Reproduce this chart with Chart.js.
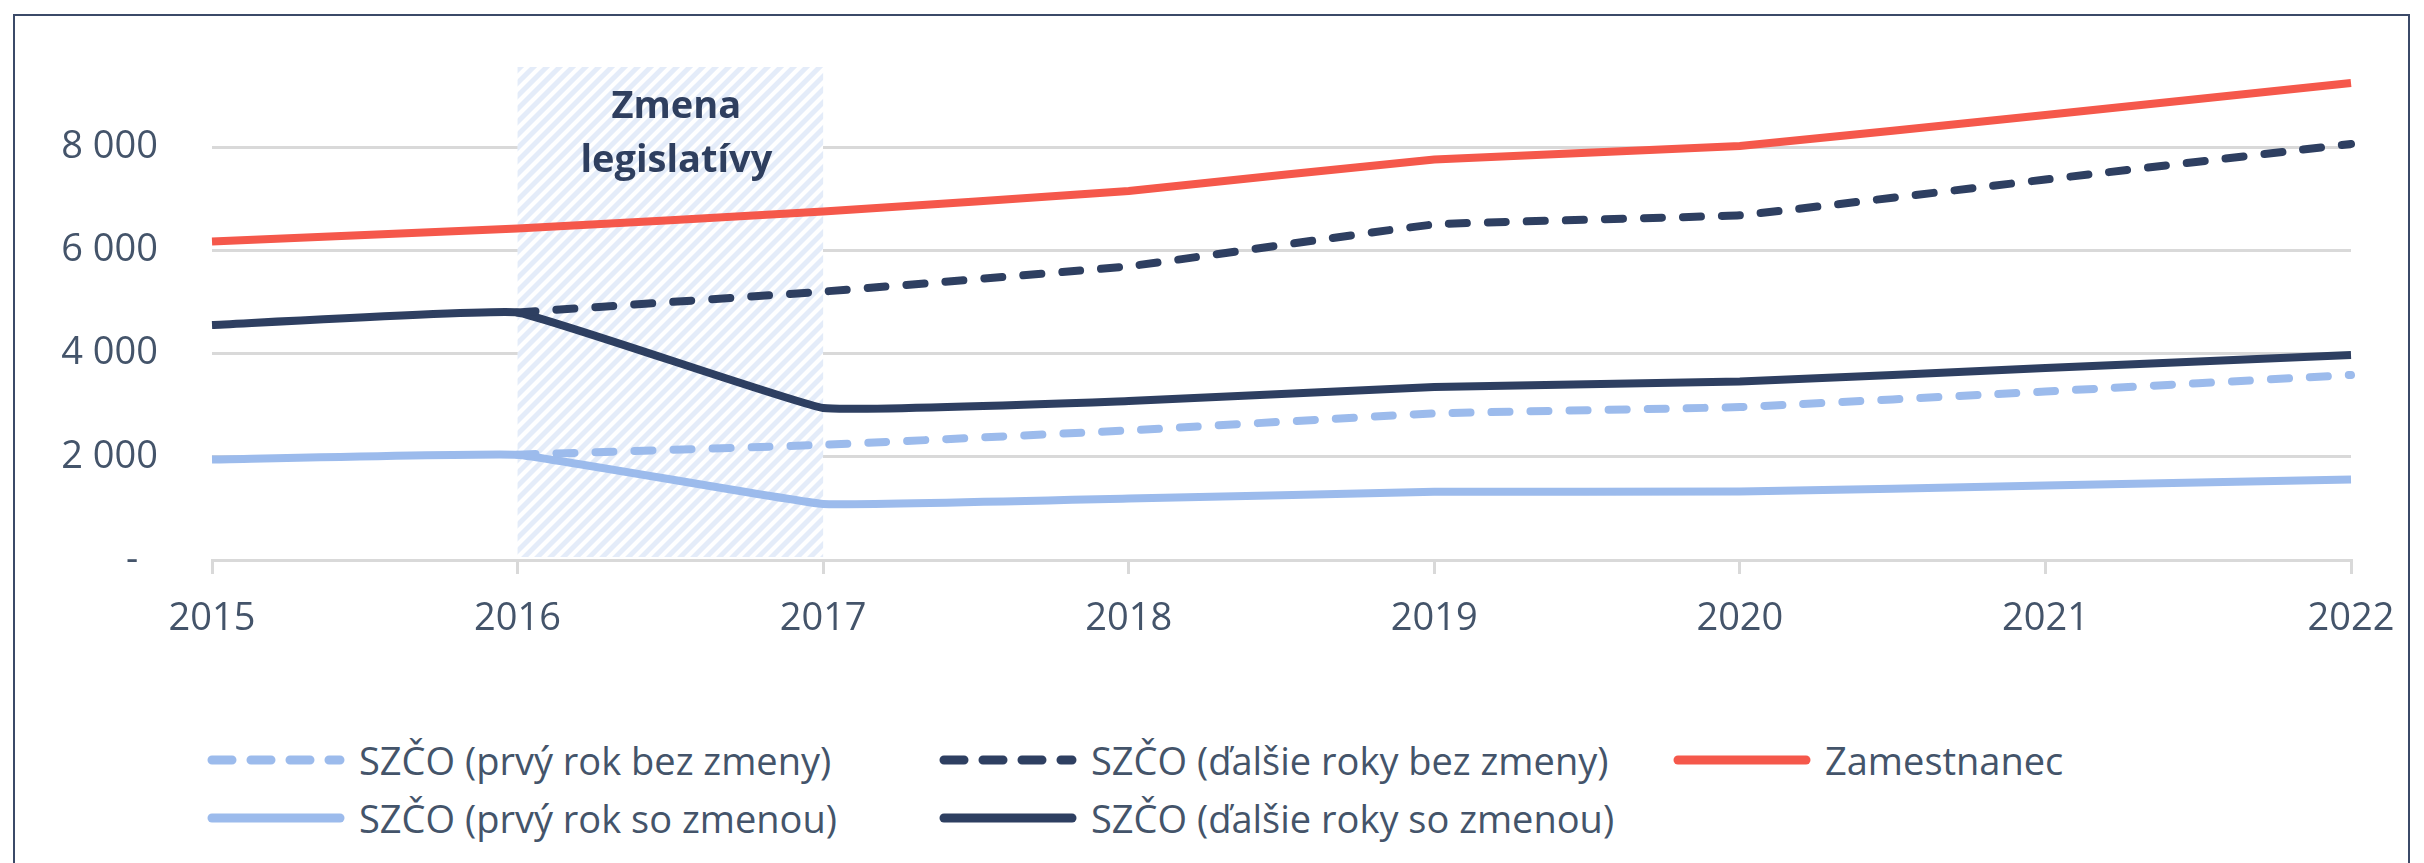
<!DOCTYPE html>
<html>
<head>
<meta charset="utf-8">
<script src="https://cdn.jsdelivr.net/npm/chart.js@4.4.1/dist/chart.umd.min.js"></script>
<style>
  html, body { margin: 0; padding: 0; width: 2424px; height: 863px; overflow: hidden; background: #ffffff; }
  #frame { position: absolute; left: 13px; top: 14px; width: 2397px; height: 1000px; border: 2px solid #3b4a68; box-sizing: border-box; }
  #wrap { position: absolute; left: 0; top: 0; width: 2424px; height: 700px; }
  .leg { position: absolute; height: 52px; display: flex; align-items: center; font-family: "Open Sans", sans-serif; font-size: 38px; color: #44546a; white-space: nowrap; }
  .leg svg { margin-right: 14px; }
</style>
</head>
<body>
<div id="frame"></div>
<div id="wrap"><canvas id="c"></canvas></div>
<div id="legend"></div>
<script>
const years = ['2015', '2016', '2017', '2018', '2019', '2020', '2021', '2022'];
const zamestnanec = [6170, 6420, 6750, 7150, 7760, 8020, 8620, 9240];
const dalsieBezZmeny = [null, 4796, 5200, 5690, 6500, 6680, 7370, 8060];
const dalsieSoZmenou = [4552, 4796, 2944, 3080, 3350, 3456, 3720, 3971];
const prvyBezZmeny = [null, 2040, 2231, 2510, 2840, 2963, 3264, 3584];
const prvySoZmenou = [1947, 2040, 1085, 1190, 1320, 1327, 1441, 1557];
const yTicks = [0, 2000, 4000, 6000, 8000];
const annotationLines = ['Zmena', 'legislatívy'];
const annotationFrom = '2016', annotationTo = '2017';

const LIGHT = '#9cbbec', DARK = '#2e3f61', RED = '#f5584b', TXT = '#44546a';

const legendItems = [
  { label: 'SZČO (prvý rok bez zmeny)', color: LIGHT, dash: true, x: 207, y: 760 },
  { label: 'SZČO (ďalšie roky bez zmeny)', color: DARK, dash: true, x: 939, y: 760 },
  { label: 'Zamestnanec', color: RED, dash: false, x: 1673, y: 760 },
  { label: 'SZČO (prvý rok so zmenou)', color: LIGHT, dash: false, x: 207, y: 818 },
  { label: 'SZČO (ďalšie roky so zmenou)', color: DARK, dash: false, x: 939, y: 818 }
];
const legEl = document.getElementById('legend');
legendItems.forEach(it => {
  const d = document.createElement('div');
  d.className = 'leg';
  d.style.left = it.x + 'px';
  d.style.top = (it.y - 26) + 'px';
  const dashAttr = it.dash ? 'stroke-dasharray="20 19"' : '';
  d.innerHTML = '<svg width="138" height="16"><line x1="5" y1="8" x2="133" y2="8" stroke="' + it.color +
    '" stroke-width="9" stroke-linecap="round" ' + dashAttr + '/></svg><span>' + it.label + '</span>';
  legEl.appendChild(d);
});

const fmt = v => v === 0 ? '-  ' : String(v).replace(/\B(?=(\d{3})+(?!\d))/g, '\u00a0');

const hatchPlugin = {
  id: 'hatch',
  beforeDatasetsDraw(chart) {
    const { ctx, chartArea, scales } = chart;
    const x1 = scales.x.getPixelForValue(years.indexOf(annotationFrom));
    const x2 = scales.x.getPixelForValue(years.indexOf(annotationTo));
    const top = chartArea.top;
    const bottom = scales.y.getPixelForValue(0) - 3;
    ctx.save();
    ctx.beginPath();
    ctx.rect(x1, top, x2 - x1, bottom - top);
    ctx.clip();
    ctx.fillStyle = '#ffffff';
    ctx.fillRect(x1, top, x2 - x1, bottom - top);
    ctx.strokeStyle = '#e4ecf9';
    ctx.lineWidth = 5;
    const h = bottom - top;
    for (let s = x1 - h - 20; s < x2 + 20; s += 13) {
      ctx.beginPath();
      ctx.moveTo(s, bottom + 10);
      ctx.lineTo(s + h + 20, top - 10);
      ctx.stroke();
    }
    ctx.restore();
    ctx.save();
    ctx.fillStyle = '#2f3f5f';
    ctx.font = 'bold 38px "Open Sans"';
    ctx.textAlign = 'center';
    ctx.textBaseline = 'alphabetic';
    const cx = (x1 + x2) / 2 + 6;
    ctx.fillText(annotationLines[0], cx, 118);
    ctx.fillText(annotationLines[1], cx, 172);
    ctx.restore();
  }
};

const common = { pointRadius: 0, borderWidth: 8, tension: 0.08, fill: false, spanGaps: false };

new Chart(document.getElementById('c'), {
  type: 'line',
  data: {
    labels: years,
    datasets: [
      { ...common, label: 'SZČO (ďalšie roky bez zmeny)', data: dalsieBezZmeny, borderColor: DARK, borderDash: [18, 21], borderCapStyle: 'round' },
      { ...common, label: 'SZČO (prvý rok bez zmeny)', data: prvyBezZmeny, borderColor: LIGHT, borderDash: [18, 21], borderCapStyle: 'round' },
      { ...common, label: 'Zamestnanec', data: zamestnanec, borderColor: RED },
      { ...common, label: 'SZČO (ďalšie roky so zmenou)', data: dalsieSoZmenou, borderColor: DARK },
      { ...common, label: 'SZČO (prvý rok so zmenou)', data: prvySoZmenou, borderColor: LIGHT }
    ]
  },
  options: {
    responsive: true,
    maintainAspectRatio: false,
    animation: false,
    devicePixelRatio: 1,
    layout: { padding: { left: 0, right: 73, top: 67, bottom: 0 } },
    plugins: { legend: { display: false }, tooltip: { enabled: false } },
    scales: {
      x: {
        offset: false,
        grid: { drawOnChartArea: false, drawTicks: true, tickLength: 14, color: '#d9d9d9', lineWidth: 3 },
        border: { display: true, color: '#d9d9d9', width: 3 },
        ticks: { color: TXT, font: { family: 'Open Sans', size: 38 }, padding: 22, maxRotation: 0, autoSkip: false },
        afterFit(s) { s.height = 140; }
      },
      y: {
        min: 0,
        max: 9550,
        grid: { color: '#d9d9d9', lineWidth: 3, drawTicks: false },
        border: { display: false },
        afterBuildTicks(s) { s.ticks = yTicks.map(v => ({ value: v })); },
        ticks: { color: TXT, font: { family: 'Open Sans', size: 38 }, padding: 54, callback: v => fmt(v) },
        afterFit(s) { s.width = 212; s.paddingTop = 0; s.paddingBottom = 0; }
      }
    }
  },
  plugins: [hatchPlugin]
});
</script>
</body>
</html>
